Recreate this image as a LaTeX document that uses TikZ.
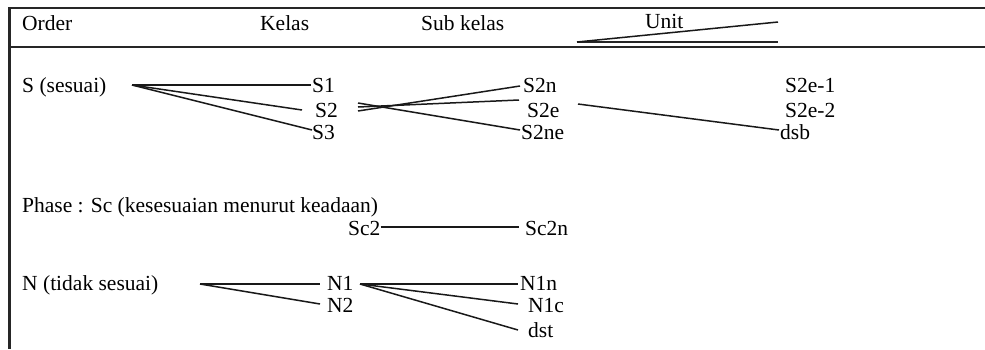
\documentclass[tikz,border=0pt]{standalone}
\usepackage{fontspec}
\setmainfont{Liberation Serif}
\begin{document}
\begin{tikzpicture}[x=1pt,y=-1pt,
  lbl/.style={anchor=base west, inner sep=0pt, font=\fontsize{21.5}{25}\selectfont},
  link/.style={line width=1.5pt, black!90},
  rule/.style={line width=2.4pt, black!85}]
\useasboundingbox (0,0) rectangle (985,349);

% frame and header rule
\draw[rule] (985,8) -- (9.5,8) -- (9.5,349);
\draw[rule] (9.5,47) -- (985,47);

% header
\node[lbl] (hOrder) at (22,30) {Order};
\node[lbl] (hKelas) at (260,30) {Kelas};
\node[lbl] (hSub)   at (421,30) {Sub kelas};
\node[lbl] (hUnit)  at (645,28) {Unit};
\coordinate (uL) at (577,42);
\coordinate (uR) at (778,42);
\coordinate (uT) at (778,22);
\draw[rule] (uL) -- (uR);
\draw[link] (uL) -- (uT);

% order S
\node[lbl] (S)    at (22,92)  {S (sesuai)};
\node[lbl] (S1)   at (312,92) {S1};
\node[lbl] (S2)   at (315,117) {S2};
\node[lbl] (S3)   at (312,139) {S3};
\node[lbl] (S2n)  at (523,92) {S2n};
\node[lbl] (S2e)  at (527,117) {S2e};
\node[lbl] (S2ne) at (521,139) {S2ne};
\node[lbl] (S2e1) at (785,92) {S2e-1};
\node[lbl] (S2e2) at (785,117) {S2e-2};
\node[lbl] (dsb)  at (780,139) {dsb};

\coordinate (Sfork) at (132,85);
\coordinate (S1in)  at (311,85);
\coordinate (S2in)  at (302,110);
\coordinate (S3in)  at (312,130);
\draw[link] (Sfork) -- (S1in);
\draw[link] (Sfork) -- (S2in);
\draw[link] (Sfork) -- (S3in);

\coordinate (S2outA) at (358,111);
\coordinate (S2outB) at (358,107);
\coordinate (S2outC) at (358,103);
\coordinate (S2nin)  at (520,86);
\coordinate (S2ein)  at (519,100);
\coordinate (S2nein) at (520,130);
\draw[link] (S2outA) -- (S2nin);
\draw[link] (S2outB) -- (S2ein);
\draw[link] (S2outC) -- (S2nein);

\coordinate (S2eout) at (578,104);
\coordinate (dsbin)  at (779,130);
\draw[link] (S2eout) -- (dsbin);

% phase
\node[lbl] (phase) at (22,212) {Phase : Sc (kesesuaian menurut keadaan)};
\node[lbl] (Sc2)   at (348,235) {Sc2};
\node[lbl] (Sc2n)  at (525,235) {Sc2n};
\coordinate (Sc2out) at (Sc2.east |- 0,227);
\coordinate (Sc2nin) at (519,227);
\draw[link] (Sc2out) -- (Sc2nin);

% order N
\node[lbl] (N)   at (22,290)  {N (tidak sesuai)};
\node[lbl] (N1)  at (327,290) {N1};
\node[lbl] (N2)  at (327,312) {N2};
\node[lbl] (N1n) at (520,290) {N1n};
\node[lbl] (N1c) at (528,312) {N1c};
\node[lbl] (dst) at (528,337) {dst};

\coordinate (Nfork)  at (200,284);
\coordinate (N1in)   at (320,284);
\coordinate (N2in)   at (320,304);
\coordinate (N1fork) at (360,284);
\coordinate (N1nin)  at (518,284);
\coordinate (N1cin)  at (518,304);
\coordinate (dstin)  at (518,330);
\draw[link] (Nfork) -- (N1in);
\draw[link] (Nfork) -- (N2in);
\draw[link] (N1fork) -- (N1nin);
\draw[link] (N1fork) -- (N1cin);
\draw[link] (N1fork) -- (dstin);
\end{tikzpicture}
\end{document}
